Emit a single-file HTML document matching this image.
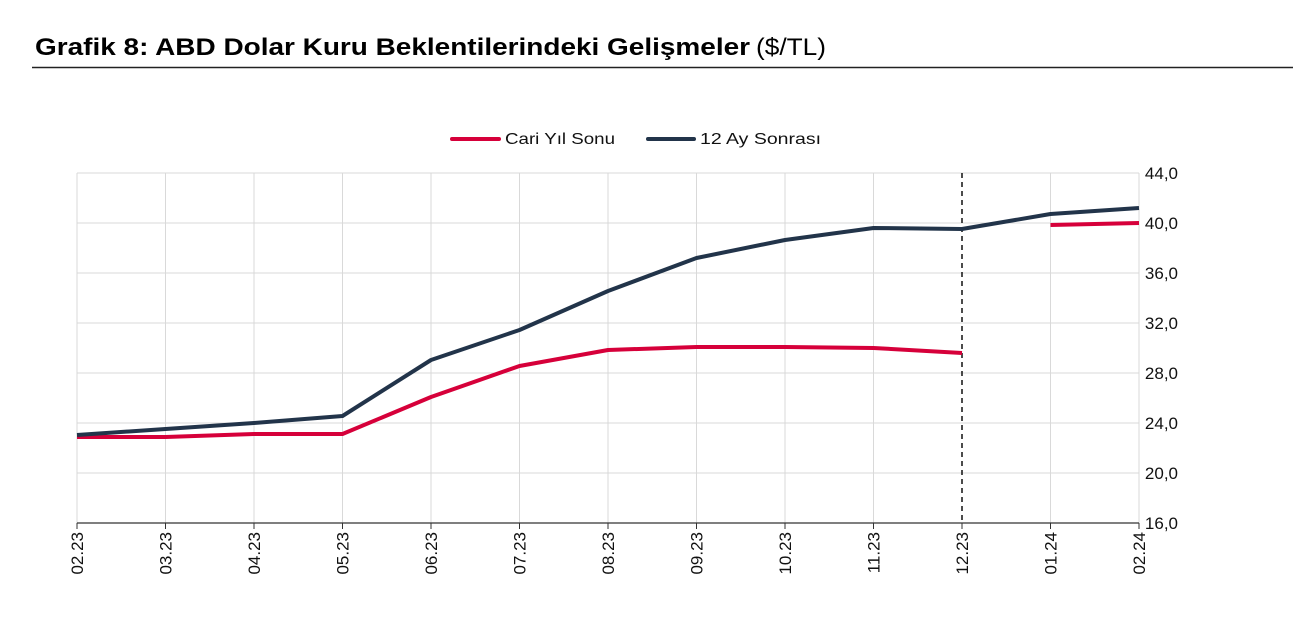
<!DOCTYPE html>
<html><head><meta charset="utf-8"><style>
html,body{margin:0;padding:0;background:#fff;}
svg{display:block;font-family:"Liberation Sans",sans-serif;}
</style></head><body>
<svg width="1298" height="628" viewBox="0 0 1298 628" xmlns="http://www.w3.org/2000/svg">
<text x="35" y="55" font-size="24" font-weight="bold" fill="#000" textLength="715" lengthAdjust="spacingAndGlyphs">Grafik 8: ABD Dolar Kuru Beklentilerindeki Gelişmeler</text>
<text x="756" y="55" font-size="24" fill="#000" textLength="70" lengthAdjust="spacingAndGlyphs">($/TL)</text>
<line x1="32" y1="67.5" x2="1293" y2="67.5" stroke="#222" stroke-width="1.5"/>
<line x1="452" y1="139" x2="499" y2="139" stroke="#d6003a" stroke-width="4" stroke-linecap="round"/>
<text x="505" y="144" font-size="16" fill="#111" textLength="110" lengthAdjust="spacingAndGlyphs">Cari Yıl Sonu</text>
<line x1="648" y1="139" x2="694" y2="139" stroke="#22344a" stroke-width="4" stroke-linecap="round"/>
<text x="700" y="144" font-size="16" fill="#111" textLength="121" lengthAdjust="spacingAndGlyphs">12 Ay Sonrası</text>
<g stroke="#d9d9d9" stroke-width="1">
<line x1="77" y1="173" x2="1139" y2="173"/><line x1="77" y1="223" x2="1139" y2="223"/>
<line x1="77" y1="273" x2="1139" y2="273"/><line x1="77" y1="323" x2="1139" y2="323"/>
<line x1="77" y1="373" x2="1139" y2="373"/><line x1="77" y1="423" x2="1139" y2="423"/>
<line x1="77" y1="473" x2="1139" y2="473"/>
<line x1="77" y1="173" x2="77" y2="523"/><line x1="165.5" y1="173" x2="165.5" y2="523"/>
<line x1="254" y1="173" x2="254" y2="523"/><line x1="342.5" y1="173" x2="342.5" y2="523"/>
<line x1="431" y1="173" x2="431" y2="523"/><line x1="519.5" y1="173" x2="519.5" y2="523"/>
<line x1="608" y1="173" x2="608" y2="523"/><line x1="696.5" y1="173" x2="696.5" y2="523"/>
<line x1="785" y1="173" x2="785" y2="523"/><line x1="873.5" y1="173" x2="873.5" y2="523"/>
<line x1="1050.5" y1="173" x2="1050.5" y2="523"/><line x1="1139" y1="173" x2="1139" y2="523"/>
</g>
<line x1="77" y1="523" x2="1139" y2="523" stroke="#333" stroke-width="1.2"/>
<g stroke="#333" stroke-width="1">
<line x1="77" y1="523" x2="77" y2="529"/><line x1="165.5" y1="523" x2="165.5" y2="529"/><line x1="254" y1="523" x2="254" y2="529"/><line x1="342.5" y1="523" x2="342.5" y2="529"/><line x1="431" y1="523" x2="431" y2="529"/><line x1="519.5" y1="523" x2="519.5" y2="529"/><line x1="608" y1="523" x2="608" y2="529"/><line x1="696.5" y1="523" x2="696.5" y2="529"/><line x1="785" y1="523" x2="785" y2="529"/><line x1="873.5" y1="523" x2="873.5" y2="529"/><line x1="962" y1="523" x2="962" y2="529"/><line x1="1050.5" y1="523" x2="1050.5" y2="529"/><line x1="1139" y1="523" x2="1139" y2="529"/>
</g>
<line x1="962" y1="173" x2="962" y2="523" stroke="#111" stroke-width="1.5" stroke-dasharray="5,4"/>
<polyline fill="none" stroke="#d6003a" stroke-width="4" stroke-linejoin="round" points="77,437 165.5,437 254,434 342.5,434 431,397 519.5,366 608,350 696.5,347 785,347 873.5,348 962,353"/>
<polyline fill="none" stroke="#d6003a" stroke-width="4" points="1050.5,225 1139,223"/>
<polyline fill="none" stroke="#22344a" stroke-width="4" stroke-linejoin="round" points="77,435 165.5,429 254,423 342.5,416 431,360 519.5,330 608,291 696.5,258 785,240 873.5,228 962,229 1050.5,214 1139,208"/>
<g font-size="17" fill="#111" text-anchor="end">
<text x="1178" y="179">44,0</text><text x="1178" y="229">40,0</text><text x="1178" y="279">36,0</text><text x="1178" y="329">32,0</text><text x="1178" y="379">28,0</text><text x="1178" y="429">24,0</text><text x="1178" y="479">20,0</text><text x="1178" y="529">16,0</text>
</g>
<g font-size="17" fill="#111" text-anchor="end">
<text transform="translate(83,532) rotate(-90)">02.23</text>
<text transform="translate(171.5,532) rotate(-90)">03.23</text>
<text transform="translate(260,532) rotate(-90)">04.23</text>
<text transform="translate(348.5,532) rotate(-90)">05.23</text>
<text transform="translate(437,532) rotate(-90)">06.23</text>
<text transform="translate(525.5,532) rotate(-90)">07.23</text>
<text transform="translate(614,532) rotate(-90)">08.23</text>
<text transform="translate(702.5,532) rotate(-90)">09.23</text>
<text transform="translate(791,532) rotate(-90)">10.23</text>
<text transform="translate(879.5,532) rotate(-90)">11.23</text>
<text transform="translate(968,532) rotate(-90)">12.23</text>
<text transform="translate(1056.5,532) rotate(-90)">01.24</text>
<text transform="translate(1145,532) rotate(-90)">02.24</text>
</g>
</svg>
</body></html>
